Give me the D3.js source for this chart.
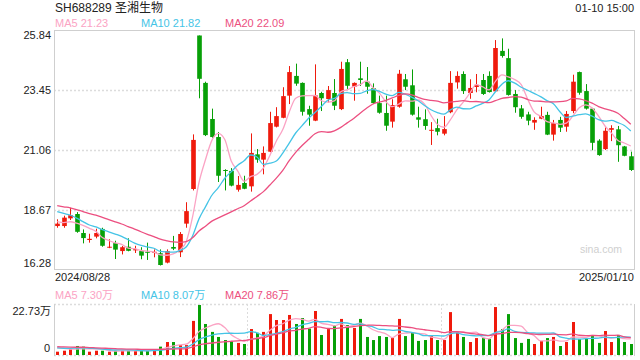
<!DOCTYPE html>
<html>
<head>
<meta charset="utf-8">
<script src="https://cdn.jsdelivr.net/npm/d3@7/dist/d3.min.js"></script>
<style>
  html, body { margin: 0; padding: 0; background: #fff; }
  svg { display: block; font-family: "Liberation Sans", Arial, "Noto Sans CJK SC", sans-serif; }
</style>
</head>
<body>
<svg id="chart" width="640" height="360"></svg>
<script>
const svg = d3.select("#chart");

// daily candles, 2024/08/28 .. 2025/01/10
const open = [17.92, 17.92, 18.24, 18.42, 17.63, 17.34, 17.48, 17.80, 17.02, 17.21,
  16.88, 17.06, 16.91, 16.88, 16.85, 16.81, 16.79, 16.40, 17.05, 16.83,
  18.02, 19.46, 25.84, 23.87, 22.37, 21.62, 20.25, 20.21, 19.43, 19.71,
  19.57, 20.90, 20.68, 21.01, 22.05, 22.42, 23.34, 24.16, 23.87, 22.78,
  22.30, 23.45, 23.20, 23.45, 22.78, 24.73, 23.71, 24.06, 23.92, 23.65,
  23.03, 22.62, 22.26, 22.88, 24.02, 23.77, 22.44, 22.36, 21.88, 21.99,
  21.76, 22.65, 23.89, 24.24, 23.45, 23.70, 23.99, 24.16, 23.52, 25.20,
  24.90, 23.41, 22.81, 22.56, 22.22, 22.38, 22.54, 21.72, 22.33, 22.05,
  22.70, 24.32, 23.53, 22.80, 21.47, 21.12, 21.92, 21.94, 21.23, 20.82];
const close = [18.02, 18.27, 18.37, 17.68, 17.42, 17.39, 17.63, 17.10, 17.06, 16.94,
  17.04, 16.89, 16.96, 16.69, 16.81, 16.85, 16.30, 16.88, 16.98, 17.59,
  18.54, 21.50, 24.04, 21.70, 21.62, 20.01, 20.21, 19.60, 19.63, 19.47,
  20.96, 20.68, 20.96, 22.20, 22.49, 23.32, 24.32, 23.84, 22.67, 22.55,
  23.35, 23.23, 23.57, 22.92, 24.45, 23.75, 23.87, 23.99, 23.71, 23.03,
  22.63, 22.09, 22.95, 24.25, 23.71, 22.55, 22.34, 22.08, 21.92, 21.84,
  21.95, 23.87, 24.16, 23.53, 23.66, 23.79, 23.41, 23.49, 25.32, 24.99,
  23.37, 22.86, 22.46, 22.30, 22.33, 22.49, 21.72, 22.20, 22.01, 22.58,
  23.92, 23.46, 22.80, 21.38, 20.87, 21.88, 21.99, 21.28, 20.84, 20.25];
const high = [18.20, 18.35, 18.68, 18.50, 17.78, 17.60, 17.81, 17.85, 17.37, 17.31,
  17.09, 17.41, 17.10, 17.04, 17.23, 16.95, 16.95, 16.95, 17.51, 17.67,
  18.91, 21.73, 25.84, 23.92, 22.80, 21.83, 20.28, 20.33, 20.00, 20.01,
  21.77, 21.12, 21.23, 22.67, 22.86, 23.69, 24.57, 24.67, 23.89, 22.92,
  24.64, 23.50, 23.74, 24.03, 24.75, 24.86, 23.89, 24.75, 24.53, 23.85,
  23.34, 23.34, 23.19, 24.41, 24.24, 24.43, 22.88, 22.77, 22.24, 22.38,
  22.49, 24.36, 24.35, 24.35, 24.02, 24.24, 24.24, 24.35, 25.65, 25.72,
  25.29, 23.57, 22.95, 22.67, 22.44, 22.88, 22.67, 22.33, 22.46, 22.70,
  24.21, 24.34, 23.82, 22.83, 21.53, 22.02, 22.11, 22.08, 21.25, 21.01];
const low = [17.85, 17.85, 18.17, 17.64, 17.20, 17.23, 17.41, 17.06, 17.00, 16.55,
  16.74, 16.87, 16.80, 16.54, 16.51, 16.62, 16.28, 16.37, 16.92, 16.63,
  17.85, 19.40, 23.23, 21.66, 21.59, 19.75, 19.40, 19.57, 19.35, 19.45,
  19.35, 20.55, 20.07, 20.99, 22.02, 22.40, 22.99, 23.75, 22.51, 22.09,
  22.28, 22.70, 23.06, 22.74, 22.74, 23.62, 23.13, 23.74, 23.42, 22.99,
  22.59, 21.88, 22.01, 22.84, 23.57, 22.51, 22.01, 21.92, 21.29, 21.69,
  21.69, 22.61, 23.63, 23.41, 23.21, 23.48, 23.37, 23.47, 23.50, 24.92,
  23.34, 22.63, 22.38, 22.11, 21.92, 22.36, 21.70, 21.47, 21.83, 21.84,
  22.61, 23.38, 22.76, 21.07, 20.84, 21.08, 21.45, 20.59, 20.82, 20.21];
// volume, in 万 shares
const volume = [1.5, 1.95, 2.6, 4.1, 3.8, 1.5, 1.95, 1.95, 1.5, 1.95,
  1.95, 1.95, 1.95, 1.95, 2.3, 2.7, 3.8, 5.9, 5.9, 4.5,
  4.5, 15.5, 22.73, 14.1, 10.5, 8.2, 6.8, 6.2, 5.5, 5.0,
  11.8, 10.1, 10.5, 18.6, 15.9, 15.9, 18.2, 14.1, 16.8, 12.0,
  20.0, 9.1, 11.8, 13.5, 16.4, 13.6, 12.3, 16.4, 8.2, 6.8,
  8.6, 8.2, 7.7, 16.4, 8.6, 10.0, 6.4, 6.8, 8.6, 6.8,
  6.8, 19.5, 10.5, 8.2, 5.9, 7.7, 7.7, 7.3, 21.8, 11.8,
  18.6, 7.7, 5.5, 7.3, 5.0, 6.4, 7.7, 8.2, 4.1, 5.9,
  15.0, 7.3, 7.7, 8.6, 5.5, 10.9, 5.9, 9.1, 5.9, 5.0];

// sessions before the window, only so the moving averages start where the picture does
const priorClose = [19.3, 19.2, 19.1, 19.15, 19.0, 18.95, 18.9, 19.0, 18.8, 18.8,
  19.05, 19.0, 18.95, 18.9, 18.8, 18.45, 18.2, 17.95, 17.88];
const priorVolume = [4.8, 4.2, 5.1, 4.0, 4.6, 3.9, 4.5, 4.3, 4.4, 4.2,
  3.2, 2.9, 3.4, 3.0, 3.0, 3.6, 4.1, 3.9, 3.4];

const priceTicks = [25.84, 23.45, 21.06, 18.67, 16.28];
const volumeTicks = ["22.73万", "0"];
const volumeMax = 22.73;
const dateLabels = ["2024/08/28", "2025/01/10"];
const maPeriods = [5, 10, 20];
const maColors = ["#fba3c4", "#45c4e6", "#ec4f80"];
const priceLegend = ["MA5 21.23", "MA10 21.82", "MA20 22.09"];
const volumeLegend = ["MA5 7.30万", "MA10 8.07万", "MA20 7.86万"];

const RED = "#ef1a0c";
const GREEN = "#07a007";
const GRID = "#dcdcdc";
const BORDER = "#cfcfcf";

const LEFT = 54, RIGHT = 634;
const TOP = 30, BOTTOM = 270;
const VTOP = 304, VBOTTOM = 355;

const x = d3.scaleBand()
  .domain(d3.range(close.length))
  .range([LEFT, RIGHT])
  .paddingInner(0.28)
  .paddingOuter(0.14);
const cx = i => x(i) + x.bandwidth() / 2;

// grid rows split the box evenly, candles sit a little inside it
const yGrid = d3.scaleLinear().domain([16.28, 25.84]).range([BOTTOM, TOP]);
const y = d3.scaleLinear().domain([16.28, 25.84]).range([265.5, 35.5]);
const yv = d3.scaleLinear().domain([0, volumeMax]).range([VBOTTOM, VTOP + 1]);

function movingAverage(values, prior, n) {
  const all = prior.concat(values);
  return values.map((_, i) => d3.mean(all.slice(i + prior.length - n + 1, i + prior.length + 1)));
}

// header
svg.append("text").attr("x", 55).attr("y", 12).attr("font-size", 12).attr("fill", "#222")
  .text("SH688289 圣湘生物");
svg.append("text").attr("x", 634).attr("y", 12).attr("font-size", 11).attr("fill", "#222")
  .attr("text-anchor", "end").text("01-10 15:00");

const legendX = [55, 141, 225];
priceLegend.forEach((t, k) => {
  svg.append("text").attr("x", legendX[k]).attr("y", 27).attr("font-size", 11)
    .attr("fill", maColors[k]).text(t);
});

// price grid + labels
priceTicks.slice(1, -1).forEach(v => {
  svg.append("line").attr("x1", LEFT).attr("x2", RIGHT)
    .attr("y1", yGrid(v) + 0.5).attr("y2", yGrid(v) + 0.5)
    .attr("stroke", GRID).attr("stroke-width", 1.5).attr("stroke-dasharray", "2,2");
});
priceTicks.forEach((v, k) => {
  let ty = yGrid(v) + 3.5;
  if (k === 0) ty = yGrid(v) + 8.5;
  if (k === priceTicks.length - 1) ty = yGrid(v) - 3.5;
  svg.append("text").attr("x", 51).attr("y", ty).attr("font-size", 11)
    .attr("fill", "#222").attr("text-anchor", "end").text(v.toFixed(2));
});

svg.append("rect").attr("x", LEFT + 0.5).attr("y", TOP + 0.5)
  .attr("width", RIGHT - LEFT).attr("height", BOTTOM - TOP - 1)
  .attr("fill", "none").attr("stroke", BORDER);

svg.append("text").attr("x", 622).attr("y", 253).attr("font-size", 10.5)
  .attr("fill", "#cfcfcf").attr("text-anchor", "end").text("sina.com");

// candles
const up = i => close[i] >= open[i];
const candles = svg.append("g");
d3.range(close.length).forEach(i => {
  const col = up(i) ? RED : GREEN;
  candles.append("line")
    .attr("x1", Math.round(cx(i)) + 0.5).attr("x2", Math.round(cx(i)) + 0.5)
    .attr("y1", y(high[i])).attr("y2", y(low[i]))
    .attr("stroke", col).attr("stroke-width", 1);
  const top = y(Math.max(open[i], close[i]));
  const h = Math.max(1, Math.abs(y(open[i]) - y(close[i])));
  candles.append("rect")
    .attr("x", Math.round(cx(i)) + 0.5 - x.bandwidth() / 2).attr("y", top)
    .attr("width", x.bandwidth()).attr("height", h)
    .attr("fill", col);
});

// price moving averages
maPeriods.forEach((n, k) => {
  const ma = movingAverage(close, priorClose, n);
  svg.append("path").datum(ma)
    .attr("d", d3.line().x((d, i) => cx(i)).y(d => y(d)).curve(d3.curveMonotoneX))
    .attr("fill", "none").attr("stroke", maColors[k]).attr("stroke-width", 1.3);
});

// date labels
svg.append("text").attr("x", 55).attr("y", 281).attr("font-size", 11).attr("fill", "#222")
  .text(dateLabels[0]);
svg.append("text").attr("x", 634).attr("y", 281).attr("font-size", 11).attr("fill", "#222")
  .attr("text-anchor", "end").text(dateLabels[1]);

// volume panel
volumeLegend.forEach((t, k) => {
  svg.append("text").attr("x", legendX[k]).attr("y", 299).attr("font-size", 11)
    .attr("fill", maColors[k]).text(t);
});
svg.append("text").attr("x", 51).attr("y", 315).attr("font-size", 11).attr("fill", "#222")
  .attr("text-anchor", "end").text(volumeTicks[0]);
svg.append("text").attr("x", 50).attr("y", 351.5).attr("font-size", 11).attr("fill", "#222")
  .attr("text-anchor", "end").text(volumeTicks[1]);

[VTOP, VBOTTOM].forEach(yy => {
  svg.append("line").attr("x1", LEFT).attr("x2", RIGHT).attr("y1", yy + 0.5).attr("y2", yy + 0.5)
    .attr("stroke", GRID).attr("stroke-width", 1.5).attr("stroke-dasharray", "2,2");
});
[1, 2].forEach(k => {
  const xx = Math.round(LEFT + (RIGHT - LEFT) * k / 3) + 0.5;
  svg.append("line").attr("x1", xx).attr("x2", xx).attr("y1", VTOP).attr("y2", VBOTTOM)
    .attr("stroke", GRID).attr("stroke-width", 1).attr("stroke-dasharray", "2,2");
});
[LEFT + 0.5, RIGHT + 0.5].forEach(xx => {
  svg.append("line").attr("x1", xx).attr("x2", xx).attr("y1", VTOP).attr("y2", VBOTTOM + 1)
    .attr("stroke", BORDER);
});

const vbars = svg.append("g");
volume.forEach((v, i) => {
  vbars.append("rect")
    .attr("x", Math.round(cx(i)) - 1).attr("y", yv(v))
    .attr("width", 3).attr("height", VBOTTOM - yv(v))
    .attr("fill", up(i) ? RED : GREEN);
});

maPeriods.forEach((n, k) => {
  const ma = movingAverage(volume, priorVolume, n);
  svg.append("path").datum(ma)
    .attr("d", d3.line().x((d, i) => cx(i)).y(d => yv(d)).curve(d3.curveMonotoneX))
    .attr("fill", "none").attr("stroke", maColors[k]).attr("stroke-width", 1.3);
});
</script>
</body>
</html>
